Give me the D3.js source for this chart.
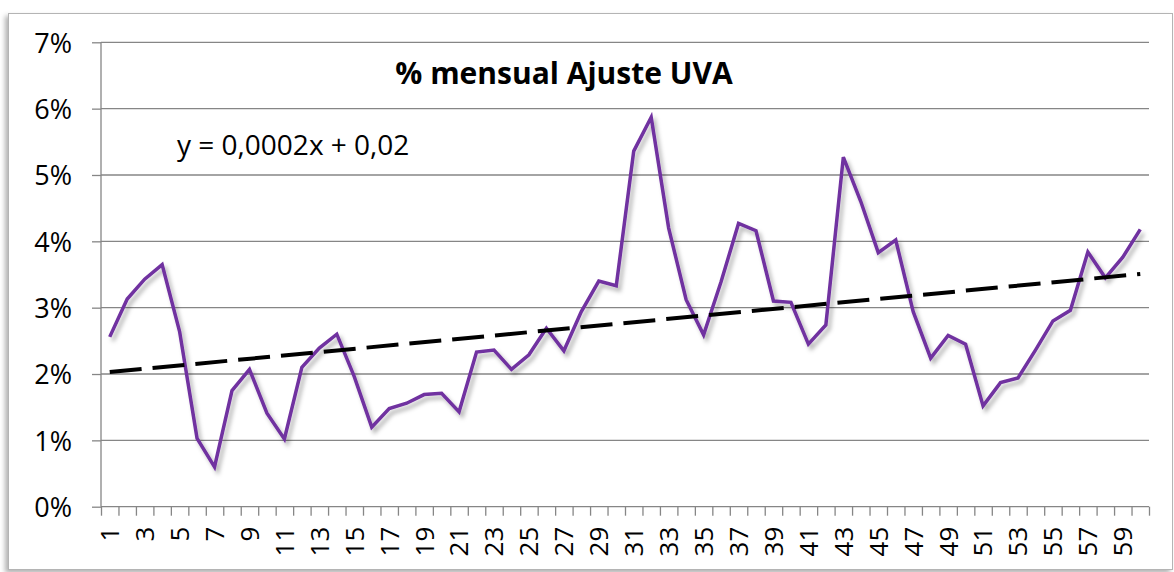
<!DOCTYPE html>
<html>
<head>
<meta charset="utf-8">
<script src="https://cdn.jsdelivr.net/npm/d3@7"></script>
<style>
    body { margin: 0; background: #fff; }
    #chart-area text { font-family: "Open Sans", "Noto Sans", sans-serif; fill: #000; }
</style>
</head>
<body>
<div id="chart-area"></div>
<script>

// month index 1..60
var months = d3.range(1, 61);

// monthly UVA adjustment, in %
var ajusteUVA = [
    2.56, 3.13, 3.43, 3.65, 2.64, 1.03, 0.60, 1.75, 2.07, 1.41,
    1.02, 2.10, 2.39, 2.60, 1.96, 1.20, 1.48, 1.56, 1.69, 1.71,
    1.43, 2.33, 2.36, 2.07, 2.29, 2.69, 2.35, 2.94, 3.40, 3.33,
    5.36, 5.87, 4.20, 3.12, 2.59, 3.39, 4.27, 4.16, 3.10, 3.08,
    2.45, 2.74, 5.27, 4.60, 3.83, 4.02, 2.94, 2.24, 2.58, 2.45,
    1.52, 1.87, 1.94, 2.36, 2.80, 2.96, 3.84, 3.45, 3.76, 4.18
];

var yTicks = [0, 1, 2, 3, 4, 5, 6, 7];
var chartTitle = "% mensual Ajuste UVA";
var trendLabel = "y = 0,0002x + 0,02";


/*
 * UvaLineVis - line chart with linear trend
 * @param _parentElement  -- id of the element to draw into
 * @param _data           -- array of {month, value}
 */
UvaLineVis = function (_parentElement, _data) {
    this.parentElement = _parentElement;
    this.data = _data;

    this.initVis();
}

UvaLineVis.prototype.initVis = function () {
    var vis = this;

    vis.margin = { top: 42.3, right: 25, bottom: 65.3, left: 101 };
    vis.width = 1174 - vis.margin.left - vis.margin.right;
    vis.height = 572 - vis.margin.top - vis.margin.bottom;

    vis.root = d3.select("#" + vis.parentElement).append("svg")
        .attr("width", 1174)
        .attr("height", 572);

    var defs = vis.root.append("defs");
    defs.append("filter").attr("id", "lineShadow")
        .attr("x", "-5%").attr("y", "-10%").attr("width", "115%").attr("height", "130%")
        .append("feDropShadow")
        .attr("dx", 3).attr("dy", 4).attr("stdDeviation", 2)
        .attr("flood-color", "#000").attr("flood-opacity", 0.3);
    defs.append("filter").attr("id", "frameShadow")
        .attr("x", "-5%").attr("y", "-5%").attr("width", "110%").attr("height", "110%")
        .append("feDropShadow")
        .attr("dx", -3).attr("dy", 3).attr("stdDeviation", 2.5)
        .attr("flood-color", "#000").attr("flood-opacity", 0.3);

    // chart frame
    vis.root.append("rect")
        .attr("x", 8.5).attr("y", 13.5)
        .attr("width", 1164).attr("height", 556)
        .attr("fill", "#fff")
        .attr("stroke", "#b4b4b4")
        .attr("stroke-width", 1)
        .attr("filter", "url(#frameShadow)");

    vis.svg = vis.root.append("g")
        .attr("transform", "translate(" + vis.margin.left + "," + vis.margin.top + ")");

    vis.x = d3.scaleLinear()
        .domain([0.5, vis.data.length + 0.5])
        .range([0, vis.width]);

    vis.y = d3.scaleLinear()
        .domain([0, 7])
        .range([vis.height, 0]);

    vis.wrangleData();
}

UvaLineVis.prototype.wrangleData = function () {
    var vis = this;

    // least squares trend, like Excel's linear trendline
    var n = vis.data.length;
    var mx = d3.mean(vis.data, d => d.month);
    var my = d3.mean(vis.data, d => d.value);
    var sxy = d3.sum(vis.data, d => (d.month - mx) * (d.value - my));
    var sxx = d3.sum(vis.data, d => (d.month - mx) * (d.month - mx));
    vis.slope = sxy / sxx;
    vis.intercept = my - vis.slope * mx;

    vis.trend = [vis.data[0].month, vis.data[n - 1].month].map(function (m) {
        return { month: m, value: vis.intercept + vis.slope * m };
    });

    vis.updateVis();
}

UvaLineVis.prototype.updateVis = function () {
    var vis = this;

    // gridlines
    vis.svg.append("g")
        .selectAll("line")
        .data(yTicks.slice(1))
        .enter().append("line")
        .attr("x1", 0).attr("x2", vis.width)
        .attr("y1", d => vis.y(d)).attr("y2", d => vis.y(d))
        .attr("stroke", "#868686")
        .attr("stroke-width", 1.3);

    // y axis
    var yAxis = d3.axisLeft(vis.y)
        .tickValues(yTicks)
        .tickSize(9)
        .tickPadding(20)
        .tickFormat(d => d + "%");
    var yg = vis.svg.append("g").call(yAxis);
    yg.selectAll("line, path").attr("stroke", "#868686").attr("stroke-width", 1.3);
    yg.select(".domain").attr("d", "M0," + vis.height + "V0");
    yg.selectAll("text").style("font-size", "27px").attr("dy", "0.36em");

    // x axis: ticks on category boundaries
    var xAxis = d3.axisBottom(vis.x)
        .tickValues(d3.range(0.5, vis.data.length + 1, 1))
        .tickSize(9)
        .tickFormat("");
    var xg = vis.svg.append("g")
        .attr("transform", "translate(0," + vis.height + ")")
        .call(xAxis);
    xg.selectAll("line, path").attr("stroke", "#868686").attr("stroke-width", 1.3);
    xg.select(".domain").attr("d", "M0,0H" + vis.width);

    // rotated labels on odd months
    vis.svg.append("g")
        .selectAll("text")
        .data(vis.data.filter(d => d.month % 2 === 1))
        .enter().append("text")
        .attr("transform", d => "translate(" + vis.x(d.month) + "," + (vis.height + 20) + ") rotate(-90)")
        .attr("text-anchor", "end")
        .attr("dy", "0.36em")
        .style("font-size", "26px")
        .text(d => d.month);

    // data line
    var line = d3.line()
        .x(d => vis.x(d.month))
        .y(d => vis.y(d.value));

    vis.svg.append("path")
        .datum(vis.data)
        .attr("d", line)
        .attr("fill", "none")
        .attr("stroke", "#7030a0")
        .attr("stroke-width", 3.5)
        .attr("stroke-linejoin", "miter")
        .attr("filter", "url(#lineShadow)");

    // trend line
    vis.svg.append("path")
        .datum(vis.trend)
        .attr("d", line)
        .attr("fill", "none")
        .attr("stroke", "#000")
        .attr("stroke-width", 4)
        .attr("stroke-dasharray", "32,11");

    // title + equation
    vis.root.append("text")
        .attr("x", 564).attr("y", 84)
        .attr("text-anchor", "middle")
        .style("font-size", "30px")
        .style("font-weight", "bold")
        .text(chartTitle);

    vis.root.append("text")
        .attr("x", 177).attr("y", 155)
        .style("font-size", "28px")
        .text(trendLabel);
}

var uvaData = months.map(function (m, i) {
    return { month: m, value: ajusteUVA[i] };
});

var uvaVis = new UvaLineVis("chart-area", uvaData);

</script>
</body>
</html>
